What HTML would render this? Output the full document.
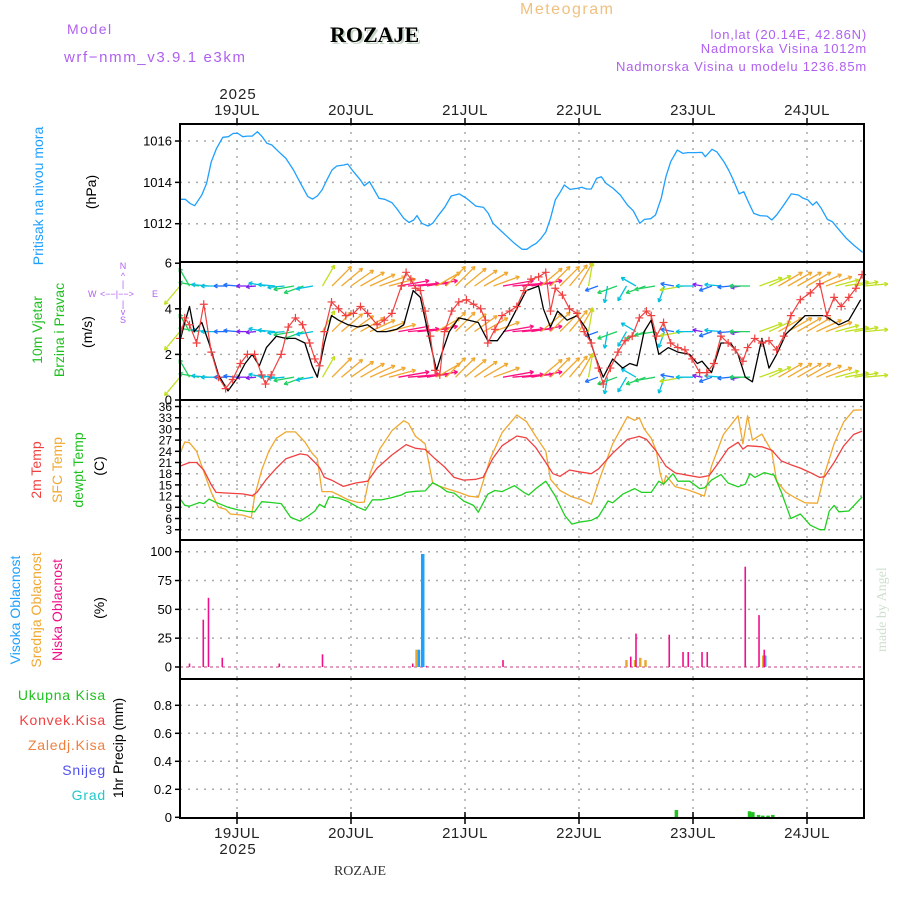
<!DOCTYPE html>
<html><head><meta charset="utf-8"><style>
html,body{margin:0;padding:0;background:#fff;width:900px;height:900px;overflow:hidden}
svg{display:block}
text{font-family:"Liberation Sans",sans-serif}
text.serif{font-family:"Liberation Serif",serif}
</style></head><body>
<svg id="chart" width="900" height="900" xmlns="http://www.w3.org/2000/svg">
<rect x="0" y="0" width="900" height="900" fill="#fff"/>
<g id="header">
<text x="67" y="34" font-size="14" fill="#b060f0" letter-spacing="1.5">Model</text>
<text x="64" y="62" font-size="15" fill="#b060f0" letter-spacing="1.6">wrf−nmm_v3.9.1 e3km</text>
<text class="serif" x="332" y="44" font-size="22" font-weight="bold" fill="#c8d8c8">ROZAJE</text>
<text class="serif" x="330" y="42" font-size="22" font-weight="bold" fill="#000">ROZAJE</text>
<text x="520" y="14" font-size="16" fill="#f0c080" letter-spacing="1.5">Meteogram</text>
<text x="867" y="39" font-size="13" fill="#b060f0" text-anchor="end" letter-spacing="0.8">lon,lat (20.14E, 42.86N)</text>
<text x="867" y="53" font-size="13" fill="#b060f0" text-anchor="end" letter-spacing="0.8">Nadmorska Visina 1012m</text>
<text x="867" y="71" font-size="13" fill="#b060f0" text-anchor="end" letter-spacing="0.8">Nadmorska Visina u modelu 1236.85m</text>
<text x="238" y="99" font-size="15" fill="#222" text-anchor="middle" letter-spacing="1">2025</text>
<text x="238" y="854" font-size="15" fill="#222" text-anchor="middle" letter-spacing="1">2025</text>
<text class="serif" x="360" y="875" font-size="14" fill="#333" text-anchor="middle">ROZAJE</text>
<text class="serif" transform="translate(886,652) rotate(-90)" font-size="14" fill="#d0e0d0">made by Angel</text>
</g>
<g id="ylabels" font-size="14">
<text transform="translate(43,196) rotate(-90)" text-anchor="middle" fill="#1ea0ff">Pritisak na nivou mora</text>
<text transform="translate(96,192) rotate(-90)" text-anchor="middle" fill="#000">(hPa)</text>
<text transform="translate(42,330) rotate(-90)" text-anchor="middle" fill="#20c020">10m Vjetar</text>
<text transform="translate(64,330) rotate(-90)" text-anchor="middle" fill="#20c020">Brzina i Pravac</text>
<text transform="translate(92,332) rotate(-90)" text-anchor="middle" fill="#000">(m/s)</text>
<g fill="#b060f0" font-size="9">
<text x="123" y="269" text-anchor="middle">N</text><text x="123" y="279" text-anchor="middle">^</text><text x="123" y="287" text-anchor="middle">|</text>
<text x="88" y="297">W</text><text x="100" y="297">&lt;−−|−−&gt;</text><text x="152" y="297">E</text>
<text x="123" y="307" text-anchor="middle">|</text><text x="123" y="315" text-anchor="middle">v</text><text x="123" y="323" text-anchor="middle">S</text>
</g>
<text transform="translate(41,470) rotate(-90)" text-anchor="middle" fill="#f04040">2m Temp</text>
<text transform="translate(62,470) rotate(-90)" text-anchor="middle" fill="#f0a830">SFC Temp</text>
<text transform="translate(83,470) rotate(-90)" text-anchor="middle" fill="#20c020">dewpt Temp</text>
<text transform="translate(104,466) rotate(-90)" text-anchor="middle" fill="#000">(C)</text>
<text transform="translate(20,610) rotate(-90)" text-anchor="middle" fill="#1ea0ff">Visoka Oblacnost</text>
<text transform="translate(41,610) rotate(-90)" text-anchor="middle" fill="#f0a830">Srednja Oblacnost</text>
<text transform="translate(62,610) rotate(-90)" text-anchor="middle" fill="#f0108a">Niska Oblacnost</text>
<text transform="translate(104,608) rotate(-90)" text-anchor="middle" fill="#000">(%)</text>
<text x="106" y="700" text-anchor="end" fill="#20c020" letter-spacing="0.8">Ukupna Kisa</text>
<text x="106" y="725" text-anchor="end" fill="#f04040" letter-spacing="0.8">Konvek.Kisa</text>
<text x="106" y="750" text-anchor="end" fill="#f08040" letter-spacing="0.8">Zaledj.Kisa</text>
<text x="106" y="775" text-anchor="end" fill="#5050f0" letter-spacing="0.8">Snijeg</text>
<text x="106" y="800" text-anchor="end" fill="#20c8c8" letter-spacing="0.8">Grad</text>
<text transform="translate(123,748) rotate(-90)" text-anchor="middle" fill="#000">1hr Precip (mm)</text>
</g>
<g id="grid"></g>
<g id="marks"></g>
<g id="axes"></g>
</svg>
<script>
// ---- data ----
const dayLabels = ["19JUL","20JUL","21JUL","22JUL","23JUL","24JUL"];
const dayHours = [12,36,60,84,108,132];
const pTicks = [1012,1014,1016];
const wTicks = [0,2,4,6];
const tTicks = [3,6,9,12,15,18,21,24,27,30,33,36];
const cTicks = [0,25,50,75,100];
const rTicks = [0,0.2,0.4,0.6,0.8];
const rTickLabels = ["0","0.2","0.4","0.6","0.8"];

const presHours = [0,1.1,2.1,3.1,4.6,5.6,6.6,7.7,9,10.2,11.2,12.2,13.2,14.2,15.2,16.3,17.3,18.3,19.3,20.8,22.3,23.9,25.4,26.9,27.9,28.9,29.9,30.9,32,33,34.5,35.3,36.5,38,38.8,39.9,40.9,41.9,43.1,44.6,45.6,47.1,48.2,49.2,49.9,50.9,52.2,53.2,54.2,55.8,57.1,58.8,60.3,62.3,63.9,64.9,65.9,67.4,68.9,70.4,72,73,74,75,76,77,78,79,80.1,80.9,82.1,83.6,84.6,85.6,86.6,87.7,88.7,89.7,91.2,92.7,94.2,95.4,96.8,97.8,99.1,100.1,101.3,102.3,103.3,104.7,105.9,106.9,108.4,109.9,110.6,112,113,114.5,115.5,116.5,117.7,118.7,119.8,120.8,122.1,123.6,124.6,125.6,127.1,128.7,130.2,131.2,132.2,133.2,134,135,136.3,137.3,138.8,140.3,141.8,143.7];
const presVals = [1013.18,1013.18,1012.98,1012.87,1013.39,1013.95,1015.0,1015.65,1016.18,1016.21,1016.37,1016.37,1016.21,1016.24,1016.24,1016.45,1016.21,1015.89,1015.81,1015.48,1015.16,1014.6,1013.95,1013.31,1013.19,1013.34,1013.63,1014.11,1014.6,1014.79,1014.84,1014.89,1014.52,1014.11,1013.84,1014.03,1013.63,1013.23,1013.18,1013.02,1012.74,1012.26,1012.06,1012.18,1012.39,1012.02,1011.89,1012.02,1012.34,1012.82,1013.34,1013.44,1013.23,1012.85,1012.79,1012.5,1012.02,1011.69,1011.37,1011.05,1010.76,1010.76,1010.92,1011.05,1011.29,1011.6,1012.26,1013.15,1013.55,1013.87,1013.66,1013.71,1013.76,1013.68,1013.68,1014.19,1014.27,1013.95,1013.71,1013.39,1012.9,1012.63,1012.02,1012.21,1012.24,1012.42,1013.23,1014.27,1015.0,1015.56,1015.4,1015.44,1015.44,1015.45,1015.24,1015.6,1015.48,1015.0,1014.6,1014.11,1013.44,1013.55,1012.98,1012.5,1012.39,1012.37,1012.18,1012.42,1012.9,1013.44,1013.39,1013.23,1013.15,1012.9,1013.06,1012.74,1012.21,1012.1,1011.69,1011.29,1010.97,1010.61];

const windHours = [0,1,2,3,4.6,6.1,8.1,10.1,12.2,13.7,15.2,16.7,18.2,20.3,22.3,24.3,26.3,27.8,28.9,30.4,31.9,33.4,35.4,37.5,39.5,41.5,43.5,45.6,47.1,49.1,50.6,52.7,54,55.2,56.7,58.7,60.8,62.8,64.8,66.8,68.9,70.9,72.9,75.5,76.5,78,79.5,81.5,83.6,85.6,87.6,89.1,91.1,93.2,94.7,96.2,97.7,99.2,100.8,102.8,104.8,107.3,108.9,109.9,111.9,113.9,115.9,117.5,119,120.5,122.5,124,125.6,127.6,129.6,131.6,133.7,135.7,137.2,138.7,140.8,143.3];
const windSpeed = [2.6,3.4,4.1,3.0,3.4,2.5,1.1,0.4,1.0,1.6,2.0,1.5,2.3,2.8,2.7,2.7,2.5,1.5,1.0,2.5,3.7,3.5,3.3,3.2,3.3,3.0,3.0,3.1,3.3,4.8,4.5,2.5,1.3,2.1,3.0,3.6,3.5,3.4,2.6,2.6,3.2,4.0,4.8,5.0,4.0,3.2,3.9,3.5,3.7,3.1,1.8,1.0,1.8,1.4,1.6,1.5,3.0,3.5,2.0,2.3,2.1,2.0,1.6,1.7,1.2,2.5,2.5,2.0,1.0,0.8,2.7,1.4,2.0,2.9,3.3,3.7,3.7,3.7,3.5,3.3,3.5,4.4];
const gustHours = [0,1,2,3.5,5,6.6,8.1,9.6,11.1,12.7,14.2,15.7,17.2,18,19.2,21.3,22.8,24.3,25.8,27.3,28.4,29.4,30.4,31.9,33.4,34.9,36.5,38,39.5,41.5,43,44.6,46.6,47.6,48.6,49.6,50.6,51.6,52.7,53.7,54.7,55.7,57.2,58.7,60.3,61.8,63.3,64.3,64.8,66.3,67.8,69.4,70.9,72.4,73.9,75.5,77,78,79,80.5,82,83.6,85.1,86.6,88.1,89.1,90.6,92.2,93.7,95.2,96.7,98.2,99.2,100.3,101.8,103.3,104.8,106.3,107.8,109.4,110.9,112.4,113.9,115.4,116.9,118.5,119.5,121,122.5,124,125.6,127.1,128.6,130.6,132.7,134.7,136.2,137.7,139.2,140.8,142.3,143.6];
const gustVals = [2.7,3.6,3.3,2.5,4.2,2.1,1.0,0.5,0.9,1.6,2.0,2.0,1.1,0.7,1.1,2.0,3.2,3.6,3.3,2.5,1.8,1.5,3.0,4.3,4.0,3.7,3.8,4.1,3.8,3.3,3.5,3.8,5.0,5.6,5.3,4.9,4.8,3.9,2.8,1.3,1.1,3.0,3.9,4.3,4.4,4.2,4.0,3.5,2.5,3.1,3.7,3.9,4.1,4.8,5.3,5.4,5.6,3.9,4.9,4.6,4.0,3.8,3.0,2.5,1.4,0.7,1.4,2.1,2.6,2.8,3.6,3.9,3.7,2.8,3.4,2.5,2.3,2.2,1.8,1.2,1.2,1.6,2.8,2.5,2.2,1.7,2.3,2.7,2.5,2.6,2.2,2.8,3.7,4.4,4.7,5.1,3.7,4.5,4.1,4.5,4.9,5.5];

// wind direction (arrow heading, degrees, 0=east, 90=north) and speed class, every 2 hours
const arrowHours = [0,2,4,6,8,10,12,14,16,18,20,22,24,26,28,30,32,34,36,38,40,42,44,46,48,50,52,54,56,58,60,62,64,66,68,70,72,74,76,78,80,82,84,86,88,90,92,94,96,98,100,102,104,106,108,110,112,114,116,118,120,122,124,126,128,130,132,134,136,138,140,142,144];
const arrowDir = [230,120,170,175,180,180,175,180,185,170,175,185,190,200,190,60,45,40,35,30,25,20,15,10,5,5,10,30,45,45,40,35,30,20,10,5,5,10,40,45,45,50,60,80,200,260,200,240,150,200,190,250,170,190,180,170,200,175,185,190,180,20,25,30,30,30,30,25,20,15,10,10,5];
const arrowSpd = [4,3,3,2,2,1,1,0,0,2,2,2,3,3,2,4,5,5,5,5,5,5,5,6,6,6,6,5,5,5,5,5,5,5,6,6,6,6,5,5,5,5,5,4,1,2,3,2,2,3,3,2,1,4,2,0,1,2,1,0,3,4,4,5,5,5,5,5,5,4,4,4,4];
const arrowLevels = [1,3,5];

const t2Hours = [0,2,3.5,5,6.6,7.6,10.1,13.2,15.2,16.2,18.2,20.3,22.3,25.3,26.8,28.4,29.4,30.4,31.9,34.4,37,39.5,41.5,44.6,47.6,49.6,51.6,53.7,55.7,57.7,59.7,62.3,63.8,65.8,67.8,70.9,72.9,74.9,77,78.5,80,82,84,86.6,88.1,91.1,94.2,96.7,98.2,100.3,102.3,104.3,106.8,109.4,111.4,113.4,115.4,117.5,118.5,119.5,122.5,124.6,126.6,128.6,130.6,132.7,134.7,135.7,137.7,139.7,141.8,143.6];
const t2Vals = [20,21,21,19,15,13,12.8,12.6,12.1,13,16.5,19.5,22,23.3,23,21,19.6,17,16.3,14.6,15.5,16,19.5,23,25.8,24.8,24.5,22,19.8,17,16.3,16.5,17,22,25.5,28.1,27.6,25,21,18,17.3,19,18.5,18,19.3,23.5,27.2,28,27.2,24,20,18.2,17.6,17,17.5,21,24.7,26.4,24.6,25.5,25.2,24.3,21.4,20.4,19.5,18.3,17,17.2,21,25.4,28.5,29.4];
const sfcHours = [0,1,2,3.5,5,6.6,8.1,9.6,10.6,13.2,15,15.7,17.2,18.7,20.3,22.3,24.3,26.3,27.8,28.9,29.9,31.9,33.4,35.4,37.5,38.8,40,42,44.6,47.1,48.1,49.6,51.6,53.2,54.7,56.7,58.7,60.8,62.8,65.3,67.8,70.9,72.9,74.9,77,78,80,82.5,84.6,86.6,88.6,91.1,94.2,95.7,96.7,97.7,99.2,100.3,101.1,101.8,102.3,104.3,106.8,108.4,110.4,111.9,114.4,117.5,118.5,119.5,120.5,122.5,124.6,125.6,127.6,129.6,131.6,134.2,135.7,137.7,139.7,141.8,143.6];
const sfcVals = [23.5,26.5,26.3,24,18.5,13,9,8.5,7.2,6.9,6.2,12,19,24,27.5,29.2,29.2,26.5,23.5,22,13.2,13.2,12.3,11,10.3,10.4,18,24.5,29.5,32.2,31.5,28,26,15.5,14.6,13.8,13,12,11.7,22,29,33.7,32,28,24,16.5,13.5,11.8,11,9.8,17.5,26,33.3,32.3,33,30,27.5,24,18,15,17.5,14.5,13.7,13,12,20,28.5,33.5,26,33.5,27,28.6,24,16,13,11.5,10.2,10.1,18,26,31.8,35,35.1];
const dewHours = [0,1,2,4.1,5,6.1,7.6,8.6,10.1,12.2,14.2,15.7,17.2,19.2,21.3,23.3,25.3,26.8,28.4,29.4,30.4,31.4,33.4,35.4,37.5,39,40.5,42.5,44.6,46.6,47.6,49.6,51.6,53.2,54.7,56.2,57.7,59.7,61.8,62.8,64.8,66.3,67.8,70.4,72.4,73.4,74.9,77,79,81,82.5,84,86.6,88.1,90.1,91.1,93.2,95.7,97.2,99.2,100.8,101.8,103.8,104.8,107.3,109.4,110.4,111.9,113.9,115.4,117.5,119,120,121,123,125.1,126.6,128.6,130.6,132.7,134.7,135.7,136.7,137.7,138.7,140.8,143.6];
const dewVals = [11.3,9.5,9.3,10.3,10,11.2,10.3,9.8,9,8.3,7.9,7.8,10.5,10.3,10,6.3,5.3,6.5,8,9.8,9,11.8,11.5,10.5,9,8.2,11,11,11.6,12.3,13,13.3,13.4,15.6,14.6,13.2,12.8,10.7,9.5,7.7,12.5,13.5,13.2,14.8,13,12.3,14,16,12,6.8,4.5,5,5.5,6.5,10.7,10.2,12.5,14,13,13,16,15.2,18,16,16,14,14.2,16.3,17.8,15.5,14.5,15.2,18,17,18.3,17.6,13,6,7.2,4.2,3,3,8,9.5,7.8,8,11.8];

const lowHours = [2,4.9,6,8.9,20.9,30,49,51.9,68,94.9,96,103,105.9,107,109.9,111,119,121.9,123];
const lowVals = [3,41,60,8,3,11,3,1,6,9,29,28,13,13,13,13,87,45,15];
const midHours = [49.8,94,95.8,96.9,98,122.8];
const midVals = [15,6,6,8,6,10];
const highHours = [50.2,51.1,123.1];
const highVals = [15,98,10];

const rainHours = [104.5,119.9,120.6,121.8,122.7,123.8,124.8];
const rainVals = [0.052,0.043,0.037,0.017,0.012,0.012,0.017];

// ---- scales ----
const X0=180, X1=864, H0=0, H1=144;
const x = h => X0 + (h-H0)/(H1-H0)*(X1-X0);
const yP = v => 223.7 - (v-1012)*20.67;
const yW = v => 400 - v*22.8;
const yT = v => 540.9 - v*3.733;
const yC = v => 667 - v*1.153;
const yR = v => 817.3 - v*140;
const panels = [[124,262],[262,400],[400,540],[540,679],[679,818]];

const NS="http://www.w3.org/2000/svg";
function mk(tag, parent, attrs){const e=document.createElementNS(NS,tag);for(const k in attrs)e.setAttribute(k,attrs[k]);parent.appendChild(e);return e;}
const grid=document.getElementById('grid'), marks=document.getElementById('marks'), axes=document.getElementById('axes');

function hgrid(vals, yf, name){
  vals.forEach(v=>{const yy=yf(v);
    const l=mk('line',grid,{x1:X0,x2:X1,y1:yy,y2:yy,stroke:'#aaa','stroke-width':1.5,'stroke-dasharray':'2,6'});
    
    
  });
}
hgrid(pTicks,yP,'pressure'); hgrid([2,4],yW,'wind'); hgrid(tTicks,yT,'temp'); hgrid([25,50,75,100],yC,'cloud'); hgrid([0.2,0.4,0.6,0.8],yR,'precip');
dayHours.forEach(h=>{panels.forEach(p=>{
  const l=mk('line',grid,{x1:x(h),x2:x(h),y1:p[0],y2:p[1],stroke:'#aaa','stroke-width':1.5,'stroke-dasharray':'2,6'});
  
  
});});

function line(hours, vals, yf, color, name, w){
  const d=hours.map((h,i)=>(i?'L':'M')+x(h).toFixed(1)+','+yf(vals[i]).toFixed(1)).join('');
  const p=mk('path',marks,{d:d,fill:'none',stroke:color,'stroke-width':w||1.3,'stroke-linejoin':'round'});
  
  
}
line(presHours,presVals,yP,'#1ea0ff','pressure-line');

const spdColors=['#8020f0','#2070ff','#00c0e0','#20d060','#c0e020','#f0a830','#ff1080'];
arrowLevels.forEach(lv=>{
  const baseY=yW(lv);
  arrowHours.forEach((h,i)=>{
    const a=arrowDir[i]*Math.PI/180, len=10+arrowSpd[i]*3.5;
    const x1=x(h), y1=baseY, x2=x1+Math.cos(a)*len, y2=y1-Math.sin(a)*len;
    const c=spdColors[arrowSpd[i]];
    const g=mk('g',marks,{stroke:c,'stroke-width':1.3,fill:'none'});
    
    
    mk('line',g,{x1:x1,y1:y1,x2:x2,y2:y2});
    const hl=4;
    [a+Math.PI-0.5,a+Math.PI+0.5].forEach(b=>mk('line',g,{x1:x2,y1:y2,x2:x2+Math.cos(b)*hl,y2:y2-Math.sin(b)*hl}));
  });
});
line(windHours,windSpeed,yW,'#000','wind-speed-line',1.3);
line(gustHours,gustVals,yW,'#f04040','wind-gust-line',1.2);
gustHours.forEach((h,i)=>{
  const cx=x(h), cy=yW(gustVals[i]);
  const p=mk('path',marks,{d:`M${cx-4},${cy}H${cx+4}M${cx},${cy-4}V${cy+4}`,stroke:'#f04040','stroke-width':1.2});
  
  
});

line(sfcHours,sfcVals,yT,'#f0a830','sfc-temp-line');
line(t2Hours,t2Vals,yT,'#f04040','2m-temp-line');
line(dewHours,dewVals,yT,'#20d020','dewpoint-line');

const base=mk('line',marks,{x1:X0,x2:X1,y1:yC(0),y2:yC(0),stroke:'#e0a0c0','stroke-width':2,'stroke-dasharray':'3,3'});


function bars(hours, vals, yf, color, w, name){
  hours.forEach((h,i)=>{
    const r=mk('rect',marks,{x:x(h)-w/2,y:yf(vals[i]),width:w,height:yf(0)-yf(vals[i]),fill:color});
    
    
  });
}
bars(highHours,highVals,yC,'#1ea0ff',3.5,'high-cloud-bar');
bars(midHours,midVals,yC,'#e8a830',2.5,'mid-cloud-bar');
bars(lowHours,lowVals,yC,'#f0108a',1.6,'low-cloud-bar');
bars(rainHours,rainVals,yR,'#20c020',3.5,'precip-bar');

panels.forEach(p=>{
  const r=mk('rect',axes,{x:X0,y:p[0],width:X1-X0,height:p[1]-p[0],fill:'none',stroke:'#000','stroke-width':2});
  
  
});
function yticks(vals, labels, yf, fs, name){
  vals.forEach((v,i)=>{const yy=yf(v);
    mk('line',axes,{x1:X0-5,x2:X0,y1:yy,y2:yy,stroke:'#000','stroke-width':1.5});
    const t=mk('text',axes,{x:X0-8,y:yy+4.5,'text-anchor':'end','font-size':fs,fill:'#000'});
    t.textContent=labels[i];
    
    
  });
}
yticks(pTicks,pTicks.map(String),yP,13,'pressure');
yticks(wTicks,wTicks.map(String),yW,13,'wind');
yticks(tTicks,tTicks.map(String),yT,12,'temp');
yticks(cTicks,cTicks.map(String),yC,13,'cloud');
yticks(rTicks,rTickLabels,yR,13,'precip');
dayHours.forEach((h,i)=>{
  mk('line',axes,{x1:x(h),x2:x(h),y1:118,y2:124,stroke:'#000','stroke-width':1.5});
  mk('line',axes,{x1:x(h),x2:x(h),y1:812,y2:824,stroke:'#000','stroke-width':1.5});
  const t=mk('text',axes,{x:x(h),y:115,'text-anchor':'middle','font-size':15,fill:'#222','letter-spacing':'0.5'});
  t.textContent=dayLabels[i];
  
  
  const b=mk('text',axes,{x:x(h),y:838,'text-anchor':'middle','font-size':15,fill:'#222','letter-spacing':'0.5'});
  b.textContent=dayLabels[i];
  
  
});
</script>
</body></html>
